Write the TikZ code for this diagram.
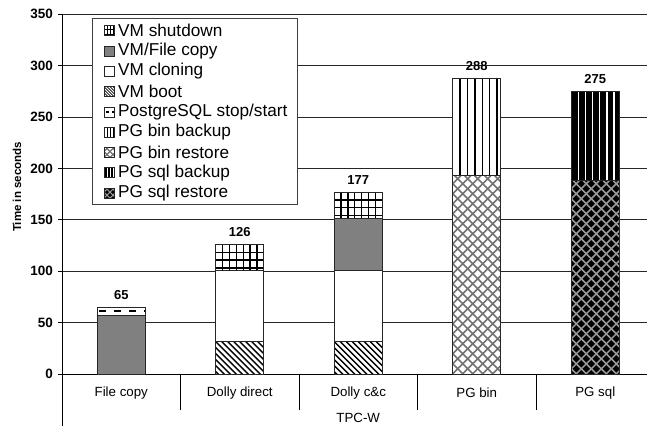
\documentclass[tikz,border=0pt]{standalone}
\usepackage{fontspec}
\setmainfont{Liberation Sans}
\definecolor{copygray}{RGB}{128,128,128}
% pattern fillers: they paint the box (\Xa,\Ytop)-(\Xb,\Ybot) and are used under a clip
\newcommand\patGrid[3]{% x step, y step, line width
  \fill[white] (\Xa,\Ytop) rectangle (\Xb,\Ybot);
  \foreach \k in {1,...,14}{
    \draw[line width=#3] ({\Xa+\k*#1},\Ytop) -- ({\Xa+\k*#1},\Ybot);
    \draw[line width=#3] (\Xa,{\Ytop+\k*#2}) -- (\Xb,{\Ytop+\k*#2});
  }}
\newcommand\patDiag[2]{% step, line width
  \fill[white] (\Xa,\Ytop) rectangle (\Xb,\Ybot);
  \foreach \k in {-14,...,14}
    \draw[line width=#2] ({\Xa+\k*#1},\Ytop) -- ({\Xa+\k*#1+80},{\Ytop+80});}
\newcommand\patCross[4]{% step, line width, background, line colour
  \fill[#3] (\Xa,\Ytop) rectangle (\Xb,\Ybot);
  \foreach \k in {-26,...,30}{
    \draw[#4,line width=#2] ({\Xa+\k*#1+2},\Ytop) -- ({\Xa+\k*#1+202},{\Ytop+200});
    \draw[#4,line width=#2] ({\Xa+\k*#1-2},\Ytop) -- ({\Xa+\k*#1-202},{\Ytop+200});
  }}
\newcommand\patVert[4]{% step, line width, background, line colour
  \fill[#3] (\Xa,\Ytop) rectangle (\Xb,\Ybot);
  \foreach \k in {1,...,14}
    \draw[#4,line width=#2] ({\Xa+\k*#1},\Ytop) -- ({\Xa+\k*#1},\Ybot);}
\newcommand\patDash[3]{% dash length, gap, line width
  \fill[white] (\Xa,\Ytop) rectangle (\Xb,\Ybot);
  \draw[line width=#3,dash pattern=on #1pt off #2pt]
    ({\Xa+2},{(\Ytop+\Ybot)/2}) -- ({\Xb+20},{(\Ytop+\Ybot)/2});}
% one stacked segment: left x, from value, to value, filler
\newcommand\barseg[4]{%
  \begin{scope}
    \pgfmathsetmacro\Xa{#1}\pgfmathsetmacro\Xb{#1+48}%
    \pgfmathsetmacro\Ytop{vy(#3)}\pgfmathsetmacro\Ybot{vy(#2)}%
    \begin{scope}
      \clip (\Xa,\Ytop) rectangle (\Xb,\Ybot);
      #4
    \end{scope}
    \draw[seg border] (\Xa,\Ytop) rectangle (\Xb,\Ybot);
  \end{scope}}
% one legend key: centre y, filler
\newcommand\legkey[2]{%
  \begin{scope}
    \def\Xa{104}\def\Xb{114}%
    \pgfmathsetmacro\Ytop{#1-5}\pgfmathsetmacro\Ybot{#1+5}%
    \begin{scope}
      \clip (\Xa,\Ytop) rectangle (\Xb,\Ybot);
      #2
    \end{scope}
    \draw[seg border] (\Xa,\Ytop) rectangle (\Xb,\Ybot);
  \end{scope}}
\begin{document}
\begin{tikzpicture}[x=1pt,y=-1pt,
  declare function={vy(\v)=374-1.0277*\v;},
  grid line/.style={line width=0.8pt,black!85},
  axis line/.style={line width=0.8pt,black},
  seg border/.style={draw=black!85,line width=0.8pt},
  tick lbl/.style={font=\bfseries\fontsize{13.5}{15}\selectfont,anchor=east,inner sep=0pt},
  cat lbl/.style={font=\fontsize{13.3}{15}\selectfont,inner sep=0pt},
  val lbl/.style={font=\bfseries\fontsize{13}{15}\selectfont,inner sep=0pt},
  leg lbl/.style={font=\fontsize{17.2}{19}\selectfont,anchor=west,inner sep=0pt},
]
\useasboundingbox (0,0) rectangle (647,426);

% grid, ticks and value axis
\foreach \v in {50,100,...,350}
  \draw[grid line] (62,{vy(\v)}) -- (647,{vy(\v)});
\foreach \v in {0,50,...,350}{
  \draw[axis line] (58,{vy(\v)}) -- (62,{vy(\v)});
  \node[tick lbl] (tick\v) at (53,{vy(\v)}) {\v};
}
\draw[axis line] (62,{vy(350)}) -- (62,426);
\draw[axis line] (62,374) -- (647,374);
\foreach \x in {180.5,299,417.5,536}
  \draw[axis line] (\x,374) -- (\x,410);
\node[font=\bfseries\fontsize{11.5}{13}\selectfont,rotate=90,inner sep=0pt] (ytitle) at (17,187) {Time in seconds};

% category labels
\node[cat lbl] (c1) at (121.25,393) {File copy};
\node[cat lbl] (c2) at (239.75,393) {Dolly direct};
\node[cat lbl] (c3) at (358.25,393) {Dolly c\&c};
\node[cat lbl] (c4) at (476.75,393) {PG bin};
\node[cat lbl] (c5) at (595.25,393) {PG sql};
\node[cat lbl] (grp) at (358.25,418) {TPC-W};

% legend
\draw[fill=white,draw=black!75,line width=0.8pt] (92,18) rectangle (297,204);
\legkey{30.7}{\patGrid{3.3}{4.2}{0.9pt}}
\node[leg lbl] (l1) at (118,30.7) {VM shutdown};
\legkey{51.0}{\fill[copygray] (\Xa,\Ytop) rectangle (\Xb,\Ybot);}
\node[leg lbl] (l2) at (118,51.0) {VM/File copy};
\legkey{71.3}{\fill[white] (\Xa,\Ytop) rectangle (\Xb,\Ybot);}
\node[leg lbl] (l3) at (118,71.3) {VM cloning};
\legkey{91.6}{\patDiag{3}{0.8pt}}
\node[leg lbl] (l4) at (118,91.6) {VM boot};
\legkey{111.9}{\patDash{3}{3}{1.2pt}}
\node[leg lbl] (l5) at (118,111.9) {PostgreSQL stop/start};
\legkey{132.2}{\patVert{3.3}{0.9pt}{white}{black}}
\node[leg lbl] (l6) at (118,132.2) {PG bin backup};
\legkey{152.5}{\patCross{6}{1.3pt}{white}{black!55}}
\node[leg lbl] (l7) at (118,152.5) {PG bin restore};
\legkey{172.8}{\patVert{3.3}{0.9pt}{black}{white}}
\node[leg lbl] (l8) at (118,172.8) {PG sql backup};
\legkey{193.1}{\patCross{6}{1.2pt}{black}{black!40}}
\node[leg lbl] (l9) at (118,193.1) {PG sql restore};

% File copy
\barseg{97.25}{0}{57}{\fill[copygray] (\Xa,\Ytop) rectangle (\Xb,\Ybot);}
\barseg{97.25}{57}{65}{\patDash{7}{8}{2.2pt}}
\node[val lbl] (v1) at (121.25,{vy(65)-12.5}) {65};
% Dolly direct
\barseg{215.75}{0}{31.5}{\patDiag{6}{1.4pt}}
\barseg{215.75}{31.5}{100.5}{\fill[white] (\Xa,\Ytop) rectangle (\Xb,\Ybot);}
\barseg{215.75}{100.5}{126}{\patGrid{6.86}{7.8}{1.3pt}}
\node[val lbl] (v2) at (239.75,{vy(126)-12.5}) {126};
% Dolly c&c
\barseg{334.25}{0}{31.5}{\patDiag{6}{1.4pt}}
\barseg{334.25}{31.5}{100.5}{\fill[white] (\Xa,\Ytop) rectangle (\Xb,\Ybot);}
\barseg{334.25}{100.5}{151}{\fill[copygray] (\Xa,\Ytop) rectangle (\Xb,\Ybot);}
\barseg{334.25}{151}{177}{\patGrid{6.86}{7.8}{1.3pt}}
\node[val lbl] (v3) at (358.25,{vy(177)-12.5}) {177};
% PG bin
\barseg{452.75}{0}{193}{\patCross{10}{1.6pt}{white}{black!55}}
\barseg{452.75}{193}{288}{\patVert{7.4}{1.4pt}{white}{black}}
\node[val lbl] (v4) at (476.75,{vy(288)-12.5}) {288};
% PG sql
\barseg{571.25}{0}{188}{\patCross{10}{1.5pt}{black}{black!40}}
\barseg{571.25}{188}{275}{\patVert{7.1}{1.6pt}{black}{white}}
\node[val lbl] (v5) at (595.25,{vy(275)-12.5}) {275};
\end{tikzpicture}
\end{document}
